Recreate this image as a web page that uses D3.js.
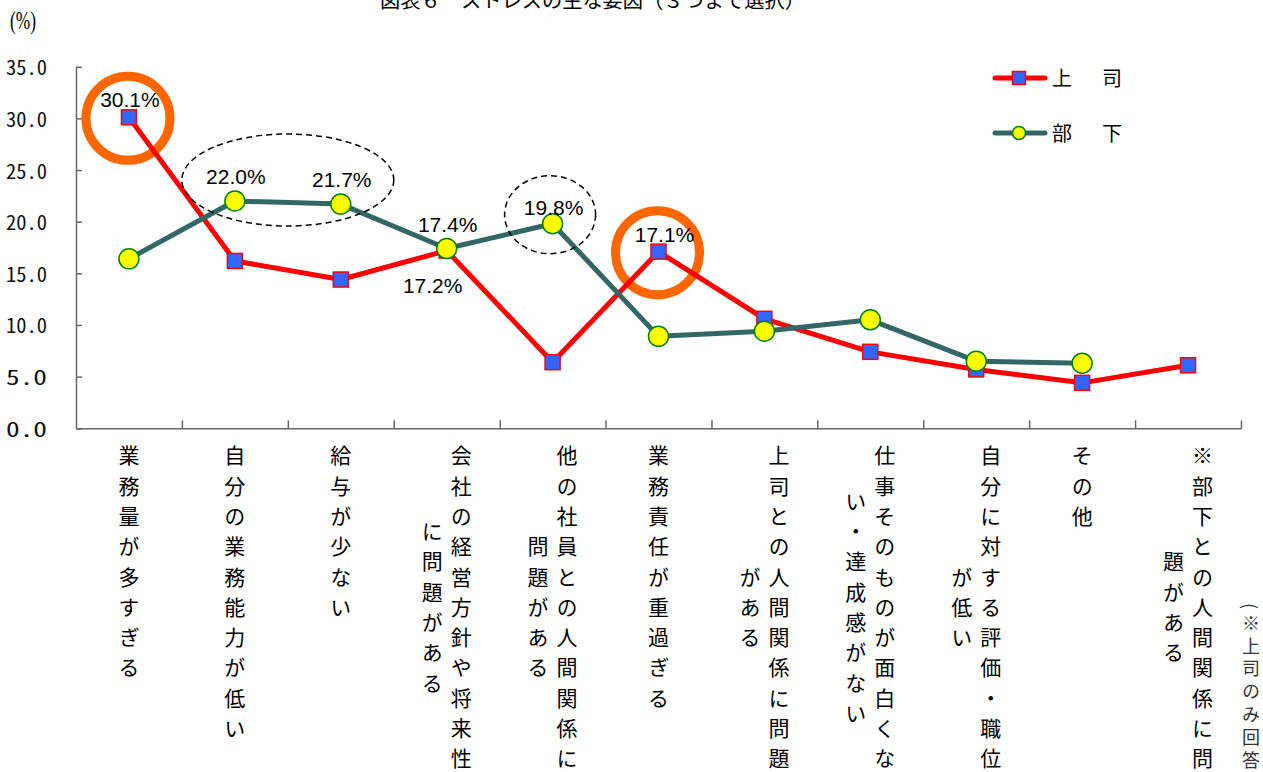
<!DOCTYPE html>
<html><head><meta charset="utf-8">
<script src="https://cdn.jsdelivr.net/npm/d3@7"></script>
<style>
html,body{margin:0;padding:0;background:#fff;overflow:hidden}
svg{display:block}
</style></head>
<body>
<svg id="chart" width="1263" height="772"></svg>
<script>
const titleText = "図表６　ストレスの主な要因（３つまで選択）";
const unitText = "(%)";
const noteText = "(※上司のみ回答)";
const categories = [
  "業務量が多すぎる",
  "自分の業務能力が低い",
  "給与が少ない",
  "会社の経営方針や将来性\nに問題がある",
  "他の社員との人間関係に\n問題がある",
  "業務責任が重過ぎる",
  "上司との人間関係に問題\nがある",
  "仕事そのものが面白くな\nい・達成感がない",
  "自分に対する評価・職位\nが低い",
  "その他",
  "※部下との人間関係に問\n題がある"
];
const seriesNames = ["上　司", "部　下"];
const bossValues = [30.1, 16.2, 14.4, 17.2, 6.4, 17.1, 10.6, 7.4, 5.7, 4.4, 6.1];
const subValues  = [16.4, 22.0, 21.7, 17.4, 19.8, 8.9, 9.4, 10.5, 6.5, 6.3, null];
const yTickValues = [0, 5, 10, 15, 20, 25, 30, 35];
// data labels: [series, category index]
const labeledPoints = [[0,0],[0,3],[0,5],[1,1],[1,2],[1,3],[1,4]];
// highlighted points (orange rings): [series, category index]
const ringedPoints = [[0,0],[0,5]];
// dashed groups: [series, first index, last index]
const dashedGroups = [[1,1,2],[1,4,4]];

const svg = d3.select("#chart");
const M = {left:76, right:1241, top:66.7, bottom:428.3};
const x = d3.scaleBand().domain(d3.range(categories.length)).range([M.left, M.right]).paddingInner(0).paddingOuter(0);
const xEdge = d3.scaleLinear().domain([0, categories.length]).range([M.left, M.right]);
const y = d3.scaleLinear().domain([0, 35]).range([M.bottom, M.top]);
const cx = i => x(i) + x.bandwidth()/2;

const seriesData = [bossValues, subValues];
const lineColors = ["#ff0000", "#336666"];
const cjk = "'Noto Sans CJK JP','Noto Sans CJK SC',sans-serif";

// title
svg.append("text").attr("x", 380).attr("y", 8)
  .attr("font-family", cjk).attr("font-size", 20).attr("fill", "#000")
  .attr("textLength", 425).attr("lengthAdjust", "spacingAndGlyphs")
  .text(titleText);
// unit
svg.append("text").attr("x", 23).attr("y", 29).attr("text-anchor", "middle")
  .attr("font-family", "'Liberation Serif','Times New Roman',serif").attr("font-size", 25)
  .attr("textLength", 26).attr("lengthAdjust", "spacingAndGlyphs")
  .attr("fill", "#000").text(unitText);

// y axis
const yAxis = d3.axisLeft(y).tickValues(yTickValues).tickSizeInner(-6).tickSizeOuter(0)
  .tickPadding(29).tickFormat(d3.format(".1f"));
const gy = svg.append("g").attr("transform", `translate(${M.left},0)`).call(yAxis);
gy.selectAll("path,line").attr("stroke", "#666").attr("stroke-width", 1.5);
gy.selectAll("text").attr("font-family", "'Noto Sans Mono CJK JP','DejaVu Sans Mono',monospace")
  .attr("font-size", 20).attr("fill", "#111").attr("dy", "0.4em")
  .attr("textLength", 41).attr("lengthAdjust", "spacingAndGlyphs");

// x axis (ticks at category boundaries)
const xAxis = d3.axisBottom(xEdge).tickValues(d3.range(1, categories.length + 1))
  .tickSizeInner(-8).tickSizeOuter(0).tickFormat("");
const gx = svg.append("g").attr("transform", `translate(0,${M.bottom})`).call(xAxis);
gx.selectAll("path,line").attr("stroke", "#666").attr("stroke-width", 1.5);

// category labels (vertical, columns right-to-left, centered on each other)
const pitch = 30.3, fs = 21, colGap = 29, labelTop = 460;
categories.forEach((c, i) => {
  const cols = c.split("\n");
  const maxLen = d3.max(cols, s => Array.from(s).length);
  cols.forEach((s, j) => {
    const n = Array.from(s).length;
    const colX = cx(i) + (cols.length - 1) * colGap / 2 - j * colGap;
    const top = labelTop - pitch/2 + (maxLen - n) * pitch / 2;
    svg.append("text")
      .attr("x", colX).attr("y", top)
      .attr("writing-mode", "vertical-rl")
      .style("writing-mode", "vertical-rl")
      .style("letter-spacing", (pitch - fs) + "px")
      .attr("font-family", cjk).attr("font-size", fs).attr("fill", "#000")
      .text(s);
  });
});
// note
svg.append("text").attr("x", 1251).attr("y", 603)
  .style("writing-mode", "vertical-rl")
  .style("letter-spacing", "4.8px")
  .attr("font-family", cjk).attr("font-size", 18).attr("fill", "#333")
  .text(noteText);

// orange rings
ringedPoints.forEach(([s, i]) => {
  svg.append("circle").attr("cx", cx(i) - 1).attr("cy", y(seriesData[s][i]) + 1)
    .attr("r", 42).attr("fill", "none").attr("stroke", "#ff6600").attr("stroke-width", 9);
});

// lines
const line = d3.line().defined(d => d.v != null).x(d => cx(d.i)).y(d => y(d.v));
seriesData.forEach((vals, s) => {
  svg.append("path").datum(vals.map((v, i) => ({v, i})))
    .attr("d", line).attr("fill", "none").attr("stroke", lineColors[s])
    .attr("stroke-width", 5).attr("stroke-linejoin", "round");
});

// markers
svg.append("g").selectAll("rect").data(bossValues.map((v,i)=>({v,i}))).join("rect")
  .attr("x", d => cx(d.i) - 7.5).attr("y", d => y(d.v) - 7.5)
  .attr("width", 15).attr("height", 15)
  .attr("fill", "#3366ff").attr("stroke", "#ff0000").attr("stroke-width", 1.5);
svg.append("g").selectAll("circle").data(subValues.map((v,i)=>({v,i})).filter(d => d.v != null)).join("circle")
  .attr("cx", d => cx(d.i)).attr("cy", d => y(d.v)).attr("r", 10)
  .attr("fill", "#ffff00").attr("stroke", "#008000").attr("stroke-width", 1.5);

// data labels
const labelShift = {"0-0": -10, "0-3": 42, "0-5": -10, "1-1": -17, "1-2": -17, "1-3": -17, "1-4": -9};
const labelDx = {"0-3": -14, "0-5": 6};
labeledPoints.forEach(([s, i]) => {
  const v = seriesData[s][i];
  const k = s + "-" + i;
  svg.append("text").attr("x", cx(i) + (labelDx[k] || 1)).attr("y", y(v) + labelShift[k])
    .attr("text-anchor", "middle")
    .attr("font-family", "'Liberation Sans',Arial,sans-serif").attr("font-size", 21)
    .attr("fill", "#000").text(v.toFixed(1) + "%");
});

// dashed ellipses
dashedGroups.forEach(([s, a, b]) => {
  const vmax = d3.max(seriesData[s].slice(a, b + 1));
  const mid = (cx(a) + cx(b)) / 2;
  const wide = b > a;
  svg.append("ellipse")
    .attr("cx", wide ? mid : mid - 2.5)
    .attr("cy", y(vmax) - (wide ? 21 : 9))
    .attr("rx", (cx(b) - cx(a)) / 2 + (wide ? 53 : 45.5))
    .attr("ry", wide ? 46 : 39)
    .attr("fill", "none").attr("stroke", "#000").attr("stroke-width", 1.5)
    .attr("stroke-dasharray", "6,4");
});

// legend
const legend = svg.append("g");
[78, 133].forEach((ly, s) => {
  legend.append("line").attr("x1", 995).attr("x2", 1045).attr("y1", ly).attr("y2", ly)
    .attr("stroke", lineColors[s]).attr("stroke-width", 5).attr("stroke-linecap", "round");
  if (s === 0) {
    legend.append("rect").attr("x", 1019 - 6.5).attr("y", ly - 6.5).attr("width", 13).attr("height", 13)
      .attr("fill", "#3366ff").attr("stroke", "#ff0000").attr("stroke-width", 1.5);
  } else {
    legend.append("circle").attr("cx", 1019).attr("cy", ly).attr("r", 6.5)
      .attr("fill", "#ffff00").attr("stroke", "#008000").attr("stroke-width", 1.5);
  }
  legend.append("text").attr("x", 1052).attr("y", ly + 8)
    .attr("font-family", cjk).attr("font-size", 20).attr("fill", "#000")
    .style("letter-spacing", "5px").text(seriesNames[s]);
});
</script>
</body></html>
